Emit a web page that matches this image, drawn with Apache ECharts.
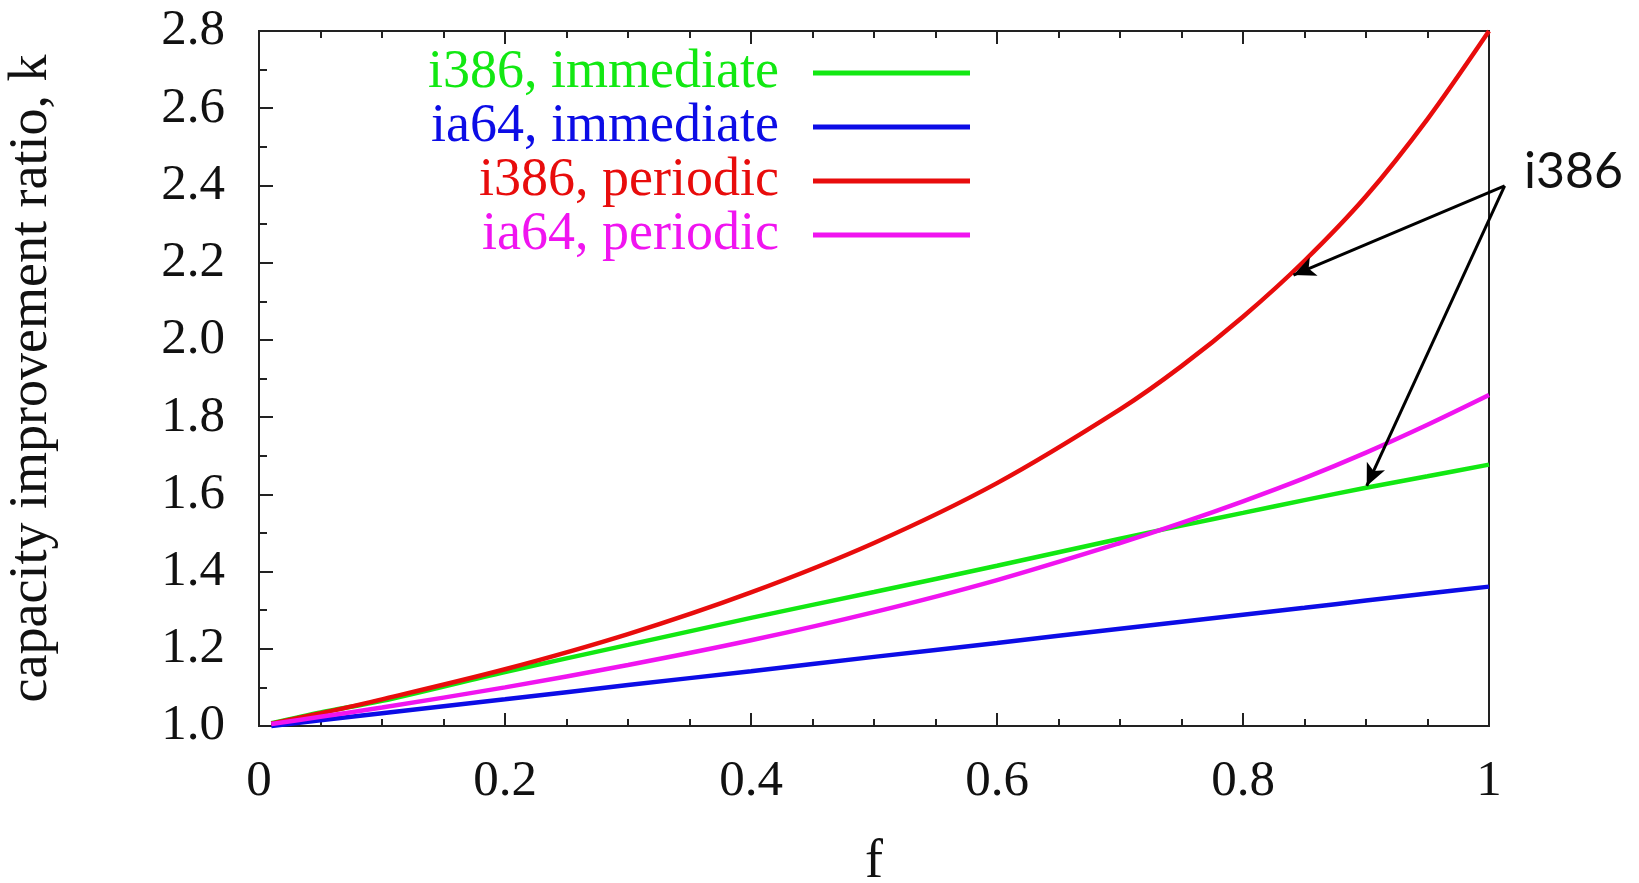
<!DOCTYPE html>
<html lang="en">
<head>
    <meta charset="UTF-8" />
    <title>capacity improvement ratio</title>
    <script src="https://cdn.jsdelivr.net/npm/echarts@6/dist/echarts.min.js"></script>
    <style>
        * { margin: 0; padding: 0; }
        body { background: #fff; }
        #main { width: 1639px; height: 883px; }
    </style>
</head>
<body>
    <div id="main"></div>
<script>
    // f values
    const fVals = [0.01, 0.05, 0.1, 0.2, 0.3, 0.4, 0.5, 0.6, 0.7, 0.75, 0.8, 0.85, 0.9, 0.95, 1.0];
    const i386Immediate = [1.007, 1.035, 1.065, 1.14, 1.21, 1.28, 1.347, 1.415, 1.485, 1.519, 1.552, 1.585, 1.617, 1.647, 1.677];
    const ia64Immediate = [1.0, 1.015, 1.033, 1.069, 1.106, 1.142, 1.179, 1.215, 1.252, 1.27, 1.288, 1.306, 1.325, 1.343, 1.361];
    const i386Periodic = [1.006, 1.033, 1.069, 1.147, 1.238, 1.346, 1.474, 1.629, 1.82, 1.932, 2.06, 2.205, 2.372, 2.572, 2.8];
    const ia64Periodic = [1.005, 1.024, 1.048, 1.1, 1.158, 1.222, 1.295, 1.378, 1.474, 1.526, 1.582, 1.642, 1.708, 1.78, 1.857];

    const seriesNames = ["i386, immediate", "ia64, immediate", "i386, periodic", "ia64, periodic"];
    const seriesColors = ["#12e812", "#0c0ce6", "#e80c0c", "#f014f0"];
    const seriesValues = [i386Immediate, ia64Immediate, i386Periodic, ia64Periodic];

    // annotation arrows "i386" (data space)
    const arrowFrom = [1.0127, 2.399];
    const arrowTo = [[0.841, 2.168], [0.9006, 1.6216]];

    const serif = "Liberation Serif";
    var myChart = echarts.init(document.getElementById("main"));

    function pairs(vals) {
        return fVals.map((f, i) => [f, vals[i]]);
    }

    var option = {
        animation: false,
        grid: {
            left: 259, right: 150, top: 31, bottom: 157,
            outerBoundsMode: "none",
            show: true, borderColor: "#222", borderWidth: 2
        },
        legend: {
            orient: "vertical",
            align: "right",
            right: 669,
            top: 46,
            padding: 0,
            itemGap: 0,
            icon: "rect",
            itemWidth: 157,
            itemHeight: 5,
            selectedMode: false,
            textStyle: {
                fontFamily: serif, fontSize: 54, lineHeight: 54,
                padding: [0, 29, 0, 0]
            },
            data: seriesNames.map((n, i) => ({ name: n, textStyle: { color: seriesColors[i] } }))
        },
        xAxis: [
            {
                type: "value", min: 0, max: 1, interval: 0.2,
                name: "f", nameLocation: "middle", nameGap: 110,
                nameTextStyle: { fontFamily: serif, fontSize: 54, color: "#111" },
                axisLine: { show: false },
                axisTick: { inside: true, length: 13, lineStyle: { color: "#222", width: 2 } },
                minorTick: { show: true, splitNumber: 4, length: 7, lineStyle: { color: "#222", width: 2 } },
                splitLine: { show: false },
                axisLabel: { margin: 30, fontFamily: serif, fontSize: 51, color: "#111" }
            },
            {
                type: "value", position: "top", min: 0, max: 1, interval: 0.2,
                axisLine: { show: false },
                axisTick: { inside: true, length: 13, lineStyle: { color: "#222", width: 2 } },
                minorTick: { show: true, splitNumber: 4, length: 7, lineStyle: { color: "#222", width: 2 } },
                splitLine: { show: false },
                axisLabel: { show: false }
            }
        ],
        yAxis: {
            type: "value", min: 1, max: 2.8, interval: 0.2,
            name: "capacity improvement ratio, k", nameLocation: "middle", nameGap: 200,
            nameTextStyle: { fontFamily: serif, fontSize: 54, color: "#111" },
            axisLine: { show: false },
            axisTick: { inside: true, length: 14, lineStyle: { color: "#222", width: 2 } },
            minorTick: { show: true, splitNumber: 2, length: 8, lineStyle: { color: "#222", width: 2 } },
            splitLine: { show: false },
            axisLabel: {
                margin: 34, fontFamily: serif, fontSize: 51, color: "#111",
                formatter: (v) => v.toFixed(1)
            }
        },
        graphic: [
            {
                type: "text", left: 1524, top: 147,
                style: { text: "i386", fontFamily: "Lato", fontSize: 50, fill: "#111" }
            }
        ],
        series: seriesNames.map((n, i) => ({
            name: n,
            type: "line",
            symbol: "none",
            smooth: 0.3,
            clip: false,
            color: seriesColors[i],
            lineStyle: { width: 4.5, color: seriesColors[i] },
            data: pairs(seriesValues[i])
        }))
    };
    myChart.setOption(option);

    // arrows: start point lies right of the plot, so place it via pixel conversion
    const fromPx = myChart.convertToPixel({ xAxisIndex: 0, yAxisIndex: 0 }, arrowFrom);
    myChart.setOption({
        series: [{}, {}, {
            markLine: {
                silent: true,
                animation: false,
                symbol: ["none", "arrow"],
                symbolSize: [15, 22],
                label: { show: false },
                lineStyle: { color: "#000", width: 3, type: "solid" },
                data: arrowTo.map((p) => {
                    const toPx = myChart.convertToPixel({ xAxisIndex: 0, yAxisIndex: 0 }, p);
                    return [{ x: fromPx[0], y: fromPx[1] }, { x: toPx[0], y: toPx[1] }];
                })
            }
        }, {}]
    });
</script>
</body>
</html>
